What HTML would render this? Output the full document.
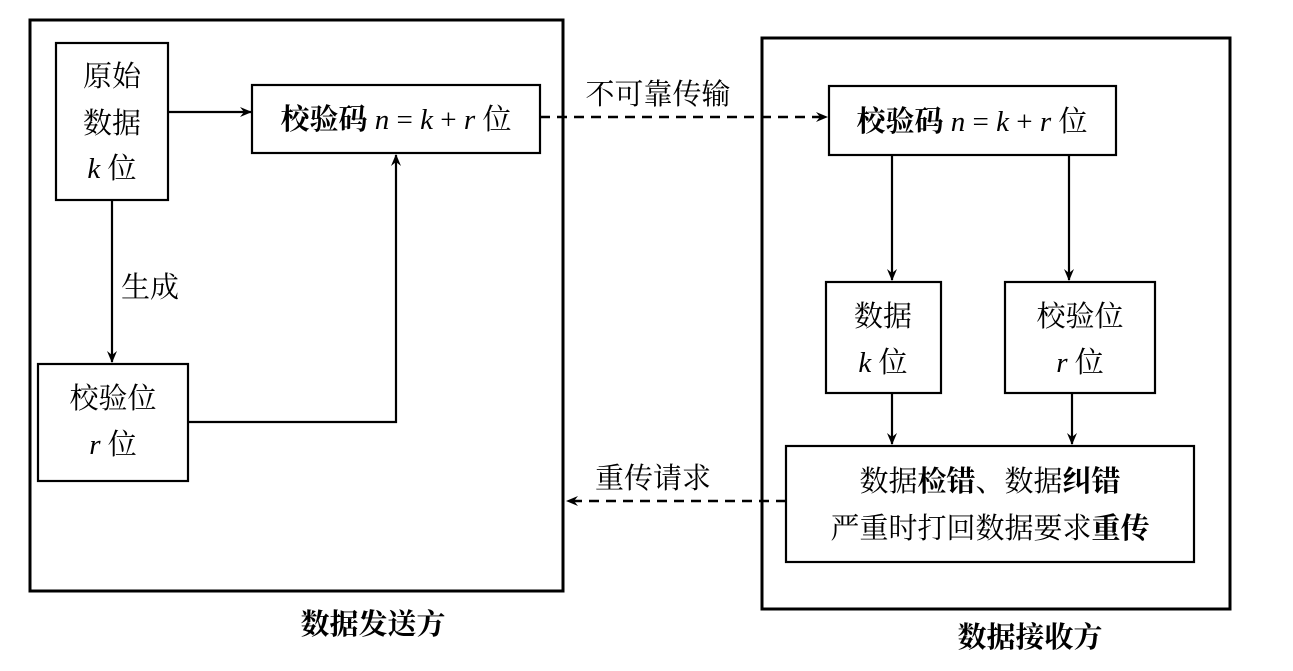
<!DOCTYPE html>
<html><head><meta charset="utf-8"><style>
html,body{margin:0;padding:0;background:#fff;}
svg{display:block;}
text{font-family:"Liberation Serif","Noto Serif CJK SC","Noto Sans CJK SC",serif;font-size:29px;fill:#000;}
.b{font-weight:bold;}
.i{font-style:italic;}
</style></head><body>
<svg width="1293" height="671" viewBox="0 0 1293 671" xmlns="http://www.w3.org/2000/svg">
<defs>
<marker id="a" markerWidth="12" markerHeight="10" refX="11" refY="5" orient="auto" markerUnits="userSpaceOnUse">
<path d="M0,0 L12,5 L0,10 L4,5 Z" fill="#000"/>
</marker>
</defs>
<g fill="none" stroke="#000" stroke-width="3">
<rect x="30" y="20" width="533" height="571"/>
<rect x="762" y="38" width="468" height="571"/>
</g>
<g fill="none" stroke="#000" stroke-width="2.2">
<rect x="56" y="43" width="112" height="157"/>
<rect x="252" y="85" width="288" height="68"/>
<rect x="38" y="364" width="150" height="117"/>
<rect x="829" y="86" width="287" height="69"/>
<rect x="826" y="282" width="115" height="111"/>
<rect x="1005" y="282" width="150" height="111"/>
<rect x="786" y="446" width="408" height="116"/>
<line x1="168" y1="112" x2="251" y2="112" marker-end="url(#a)"/>
<line x1="112" y1="200" x2="112" y2="362" marker-end="url(#a)"/>
<polyline points="188,422 396,422 396,155" marker-end="url(#a)"/>
<line x1="540" y1="117" x2="827" y2="117" stroke-dasharray="10,7" stroke-width="2.6" marker-end="url(#a)"/>
<line x1="892" y1="155" x2="892" y2="280" marker-end="url(#a)"/>
<line x1="1069" y1="155" x2="1069" y2="280" marker-end="url(#a)"/>
<line x1="892" y1="393" x2="892" y2="444" marker-end="url(#a)"/>
<line x1="1072" y1="393" x2="1072" y2="444" marker-end="url(#a)"/>
<line x1="786" y1="501" x2="567" y2="501" stroke-dasharray="10,7" stroke-width="2.6" marker-end="url(#a)"/>
</g>
<text x="112" y="86" text-anchor="middle">原始</text>
<text x="112" y="133" text-anchor="middle">数据</text>
<text x="112" y="178" text-anchor="middle"><tspan class="i">k</tspan>  位</text>
<text x="396" y="129" text-anchor="middle"><tspan class="b">校验码</tspan> <tspan class="i">n</tspan> = <tspan class="i">k</tspan> + <tspan class="i">r</tspan> 位</text>
<text x="150" y="297" text-anchor="middle">生成</text>
<text x="113" y="408" text-anchor="middle">校验位</text>
<text x="113" y="454" text-anchor="middle"><tspan class="i">r</tspan>  位</text>
<text x="658" y="104" text-anchor="middle">不可靠传输</text>
<text x="972" y="131" text-anchor="middle"><tspan class="b">校验码</tspan> <tspan class="i">n</tspan> = <tspan class="i">k</tspan> + <tspan class="i">r</tspan> 位</text>
<text x="883" y="326" text-anchor="middle">数据</text>
<text x="883" y="372" text-anchor="middle"><tspan class="i">k</tspan>  位</text>
<text x="1080" y="326" text-anchor="middle">校验位</text>
<text x="1080" y="372" text-anchor="middle"><tspan class="i">r</tspan>  位</text>
<text x="990" y="491" text-anchor="middle">数据<tspan class="b">检错</tspan>、数据<tspan class="b">纠错</tspan></text>
<text x="990" y="538" text-anchor="middle">严重时打回数据要求<tspan class="b">重传</tspan></text>
<text x="653" y="488" text-anchor="middle">重传请求</text>
<text x="373" y="634" text-anchor="middle" class="b">数据发送方</text>
<text x="1030" y="647" text-anchor="middle" class="b">数据接收方</text>
</svg>
</body></html>
